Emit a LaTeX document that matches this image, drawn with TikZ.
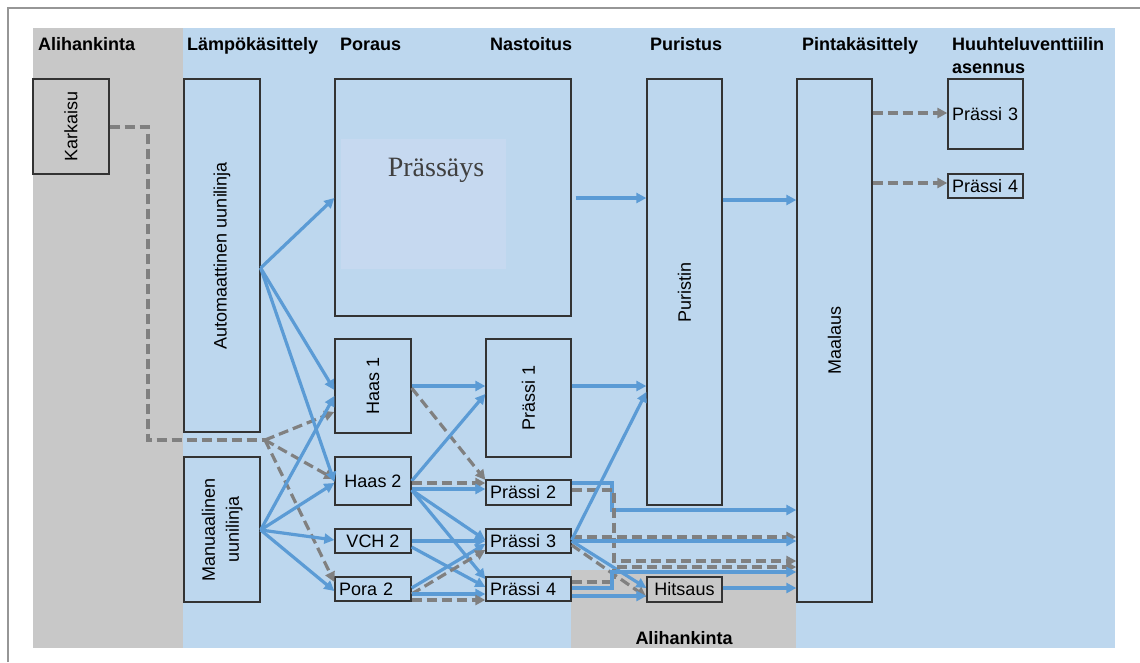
\documentclass[tikz,border=0pt]{standalone}
\usepackage{fontspec}
\setmainfont{Liberation Sans}
\newfontfamily\serifp{Liberation Serif}
\usetikzlibrary{arrows.meta}
\definecolor{bgblue}{RGB}{189,215,238}
\definecolor{bggray}{RGB}{200,200,200}
\definecolor{inblue}{RGB}{198,217,240}
\definecolor{ablue}{RGB}{91,155,213}
\definecolor{agray}{RGB}{128,128,128}
\definecolor{framec}{RGB}{150,150,150}
\begin{document}
\begin{tikzpicture}[x=1pt,y=-1pt,
 box/.style={draw=black!80, line width=1.3pt, fill=bgblue, inner sep=0pt, font=\fontsize{18}{24}\selectfont},
 gbox/.style={box, fill=bggray},
 lbox/.style={box, text width=77pt, inner xsep=4pt, align=left},
 hdr/.style={anchor=base west, font=\fontsize{18}{22}\selectfont\bfseries, inner sep=0pt},
 bl/.style={draw=ablue, line width=3.2pt, -{Triangle[length=10pt,width=10pt]}},
 gdn/.style={draw=agray, line width=3.2pt, dash pattern=on 10pt off 5pt},
 gd/.style={gdn, -{Triangle[length=10pt,width=10pt]}},
]
\useasboundingbox (0,0) rectangle (1140,662);
% frame
\draw[framec, line width=1.3pt] (8,662) -- (8,8) -- (1140,8);
% backgrounds
\fill[bgblue] (33,28) rectangle (1115,648);
\fill[bggray] (33,28) rectangle (183,648);
\fill[bggray] (571,570) rectangle (796,648);
% headers
\node[hdr] (h1) at (38,50) {Alihankinta};
\node[hdr] (h2) at (187,50) {Lämpökäsittely};
\node[hdr] (h3) at (340,50) {Poraus};
\node[hdr] (h4) at (490,50) {Nastoitus};
\node[hdr] (h5) at (650,50) {Puristus};
\node[hdr] (h6) at (802,50) {Pintakäsittely};
\node[hdr] (h7) at (952,50) {Huuhteluventtiilin};
\node[hdr] (h8) at (952,73) {asennus};
\node[hdr, anchor=base] (h9) at (684,644) {Alihankinta};
% boxes
\node[gbox, minimum width=76pt, minimum height=95pt] (kark) at (71,126.5) {\rotatebox{90}{Karkaisu}};
\node[box, minimum width=76pt, minimum height=353pt] (auto) at (222,255.5) {\rotatebox{90}{Automaattinen uunilinja}};
\node[box, minimum width=76pt, minimum height=145pt] (manu) at (222,529.5) {\rotatebox{90}{\begin{tabular}{@{}c@{}}Manuaalinen\\uunilinja\end{tabular}}};
\node[box, minimum width=236pt, minimum height=237pt] (pras) at (453,197.5) {};
\node[fill=inblue, minimum width=165pt, minimum height=130pt, inner sep=0pt] (pin) at (423.5,204) {};
\node[font=\serifp\fontsize{28}{30}\selectfont, text=black!75, anchor=base, inner sep=0pt] (ptxt) at (436,176) {Prässäys};
\node[box, minimum width=76pt, minimum height=94pt] (haas1) at (373,386) {\rotatebox{90}{Haas 1}};
\node[box, minimum width=76pt, minimum height=48pt] (haas2) at (373,481) {Haas 2};
\node[box, minimum width=76pt, minimum height=24pt] (vch2) at (373,541) {VCH 2};
\node[box, minimum width=76pt, minimum height=24pt, text width=68pt, inner xsep=4pt, align=left] (pora2) at (373,589) {Pora 2};
\node[box, minimum width=85pt, minimum height=118pt] (p1) at (528.5,398) {\rotatebox{90}{Prässi 1}};
\node[lbox, minimum height=25pt] (p2) at (528.5,492.5) {Prässi 2};
\node[lbox, minimum height=24pt] (p3) at (528.5,541) {Prässi 3};
\node[lbox, minimum height=24pt] (p4) at (528.5,589) {Prässi 4};
\node[box, minimum width=75pt, minimum height=426pt] (purist) at (684.5,292) {\rotatebox{90}{Puristin}};
\node[gbox, minimum width=75pt, minimum height=25pt] (hits) at (684.5,589.5) {Hitsaus};
\node[box, minimum width=75pt, minimum height=523pt] (maal) at (834.5,340.5) {\rotatebox{90}{Maalaus}};
\node[box, minimum width=75pt, minimum height=70pt, text width=67pt, inner xsep=4pt, align=left] (r3) at (985.5,114) {Prässi 3};
\node[box, minimum width=75pt, minimum height=24pt, text width=67pt, inner xsep=4pt, align=left] (r4) at (985.5,186) {Prässi 4};
% Karkaisu dashed feed
\coordinate (J) at (265,440);
\draw[gdn] (kark.east |- 0,127) -| (148,440) -- (J);
\draw[gd] (J) -- (haas1.west |- 0,412);
\draw[gd] (J) -- (haas2.west |- 0,479);
\draw[gd] (J) -- (pora2.west |- 0,582);
% from ovens
\draw[bl] (auto.east |- 0,268) -- (pras.west |- 0,198);
\draw[bl] (auto.east |- 0,268) -- (haas1.west |- 0,390);
\draw[bl] (auto.east |- 0,268) -- (haas2.west |- 0,482);
\draw[bl] (manu.east |- 0,530) -- (haas1.west |- 0,396);
\draw[bl] (manu.east |- 0,530) -- (haas2.west |- 0,483);
\draw[bl] (manu.east |- 0,530) -- (vch2.west |- 0,540);
\draw[bl] (manu.east |- 0,530) -- (pora2.west |- 0,591);
% drilling to pressing
\draw[bl] (haas1.east |- 0,386) -- (p1.west |- 0,386);
\draw[gd] (haas1.east |- 0,388) -- (p2.west |- 0,480);
\draw[bl] (haas2.east |- 0,481) -- (p1.west |- 0,394);
\draw[gd] (haas2.east |- 0,483) -- (p2.west |- 0,483);
\draw[bl] (haas2.east |- 0,489) -- (p2.west |- 0,489);
\draw[bl] (haas2.east |- 0,490) -- (p3.west |- 0,540);
\draw[bl] (haas2.east |- 0,490) -- (p4.west |- 0,579);
\draw[bl] (vch2.east |- 0,541) -- (p3.west |- 0,541);
\draw[bl] (vch2.east |- 0,547) -- (p4.west |- 0,587);
\draw[bl] (pora2.east |- 0,588) -- (p3.west |- 0,544);
\draw[gd] (pora2.east |- 0,594) -- (p3.west |- 0,550);
\draw[bl] (pora2.east |- 0,594) -- (p4.west |- 0,594);
\draw[gd] (pora2.east |- 0,600) -- (p4.west |- 0,600);
% to Puristin / Maalaus
\draw[bl] ([xshift=4pt]pras.east |- 0,198) -- (purist.west |- 0,198);
\draw[bl] (p1.east |- 0,386) -- (purist.west |- 0,386);
\draw[bl] (purist.east |- 0,200) -- (maal.west |- 0,200);
\draw[gd] (maal.east |- 0,113) -- (r3.west |- 0,113);
\draw[gd] (maal.east |- 0,183) -- (r4.west |- 0,183);
\draw[bl] (p2.east |- 0,483) -| (612,510) -- (maal.west |- 0,510);
\draw[gd] (p2.east |- 0,490) -| (614,561) -- (maal.west |- 0,561);
\draw[gd] (p3.east |- 0,537) -- (maal.west |- 0,537);
\draw[bl] (p3.east |- 0,541) -- (maal.west |- 0,541);
\draw[bl] (p3.east |- 0,540) -- (purist.west |- 0,392);
\draw[bl] (p3.east |- 0,541) -- (hits.west |- 0,588);
\draw[gd] (p3.east |- 0,545) -- (hits.west |- 0,597);
\draw[gd] (p4.east |- 0,582) -| (614,567) -- (maal.west |- 0,567);
\draw[bl] (p4.east |- 0,588) -| (612,572) -- (maal.west |- 0,572);
\draw[bl] (p4.east |- 0,596) -- (hits.west |- 0,596);
\draw[bl] (hits.east |- 0,588) -- (maal.west |- 0,588);
\end{tikzpicture}
\end{document}
